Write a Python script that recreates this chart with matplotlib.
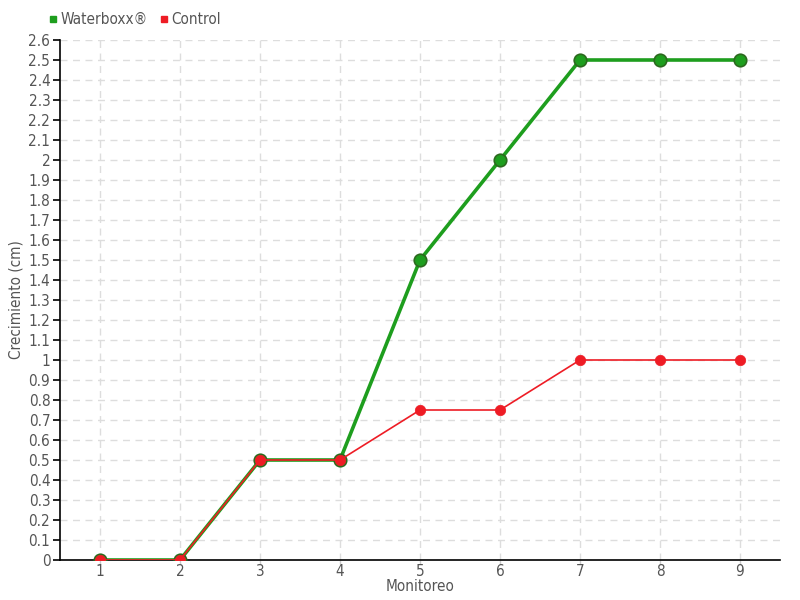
import matplotlib
matplotlib.use("Agg")
import matplotlib.pyplot as plt
from matplotlib.lines import Line2D
import numpy as np

plt.rcParams['font.family'] = ['DejaVu Sans']
plt.rcParams['font.stretch'] = 'condensed'

monitoreo = [1, 2, 3, 4, 5, 6, 7, 8, 9]
waterboxx = [0, 0, 0.5, 0.5, 1.5, 2.0, 2.5, 2.5, 2.5]
control = [0, 0, 0.5, 0.5, 0.75, 0.75, 1.0, 1.0, 1.0]
y_ticks = [round(0.1 * i, 1) for i in range(27)]
y_labels = ['%g' % v for v in y_ticks]

green = '#1e9e1e'
green_edge = '#2b6a1e'
red = '#ee1c25'
txt = '#555555'
fs = 11

fig = plt.figure(figsize=(8, 6), dpi=100)
ax = fig.add_axes([60/800, 40/600, 720/800, 520/600])

ax.plot(monitoreo, waterboxx, color=green, lw=2.6, marker='o', markersize=9,
        markerfacecolor=green, markeredgecolor=green_edge, markeredgewidth=1.2, zorder=3)
ax.plot(monitoreo, control, color=red, lw=1.2, marker='o', markersize=7.5,
        markerfacecolor=red, markeredgecolor=red, markeredgewidth=0.5, zorder=4)

ax.set_xlim(0.5, 9.5)
ax.set_ylim(0, 2.6)
ax.set_xticks(monitoreo)
ax.set_xticklabels([str(m) for m in monitoreo])
ax.set_yticks(y_ticks)
ax.set_yticklabels(y_labels)

ax.grid(True, color='#dddddd', linestyle=(0, (5, 4)), lw=1)
ax.set_axisbelow(True)
for s in ['top', 'right']:
    ax.spines[s].set_visible(False)
for s in ['left', 'bottom']:
    ax.spines[s].set_color('black')
    ax.spines[s].set_linewidth(1.2)

ax.tick_params(axis='y', length=5, width=1.2, color='black', labelsize=fs, labelcolor=txt, pad=2)
ax.tick_params(axis='x', length=3, width=1, color='#cccccc', labelsize=fs, labelcolor=txt, pad=0)

ax.set_ylabel('Crecimiento (cm)', fontsize=fs, color=txt)
ax.yaxis.set_label_coords(-36/720, 0.5)
ax.set_xlabel('Monitoreo', fontsize=fs, color=txt)
ax.xaxis.set_label_coords(0.5, -19/520)

handles = [Line2D([], [], marker='s', color=green, lw=0, markersize=5),
           Line2D([], [], marker='s', color=red, lw=0, markersize=5)]
fig.legend(handles, ['Waterboxx®', 'Control'], loc='upper left',
           bbox_to_anchor=(0.04, 1.003), ncol=2, frameon=False, fontsize=fs,
           handletextpad=0.0, columnspacing=0.5, handlelength=1.0,
           labelcolor=txt)

fig.savefig('out.png', dpi=100)
